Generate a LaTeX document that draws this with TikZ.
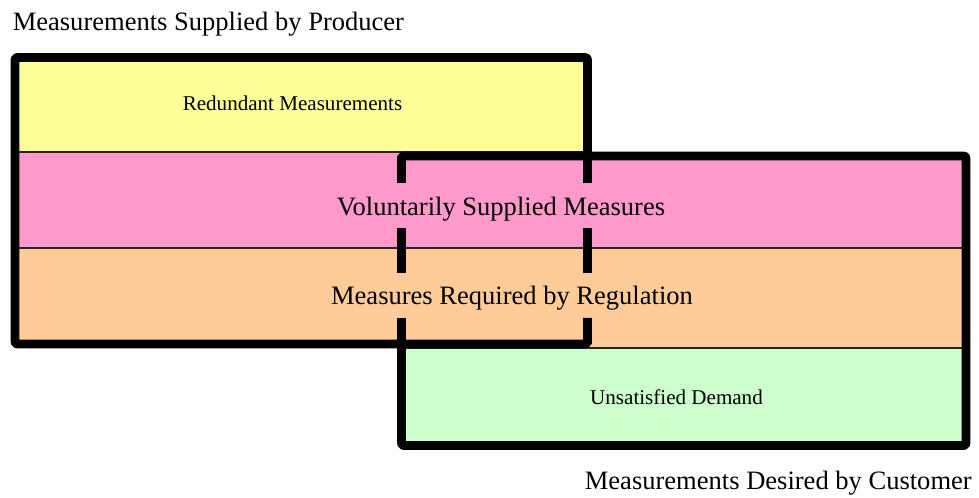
\documentclass[tikz,border=0pt]{standalone}
\usepackage{fontspec}
\setmainfont{Liberation Serif}
\definecolor{yellowband}{HTML}{FFFF99}
\definecolor{pinkband}{HTML}{FF99CC}
\definecolor{orangeband}{HTML}{FFCC99}
\definecolor{greenband}{HTML}{CCFFCC}

\begin{document}
\begin{tikzpicture}[x=0.75pt, y=-0.75pt,
	boxline/.style={line width=6.5pt, rounded corners=1.5pt, line join=round},
	bandline/.style={draw=black!85, line width=1pt},
	biglabel/.style={inner sep=0pt, font=\fontsize{19.9}{24}\selectfont},
	smalllabel/.style={inner sep=0pt, font=\fontsize{15.8}{19}\selectfont}]
			%%%%% START %%%%%
			\useasboundingbox (0, 0) rectangle (979, 498);
			
			% colour bands
			\fill[yellowband] (15, 57.5) rectangle (587.5, 152);
			\fill[pinkband] (15, 152) rectangle (966, 248);
			\fill[orangeband] (15, 248) rectangle (966, 348);
			\fill[greenband] (401.5, 348) rectangle (966, 445.5);
			
			\draw[bandline] (15, 152) -- (587.5, 152);
			\draw[bandline] (15, 248) -- (966, 248);
			\draw[bandline] (401.5, 348) -- (966, 348);
			
			% producer box
			\draw[boxline] (587.5, 156) -- (587.5, 57.5) -- (15, 57.5) -- (15, 344) -- (587.5, 344) -- (587.5, 318);
			
			% customer box
			\draw[boxline] (401.5, 344) -- (401.5, 445.5) -- (966, 445.5) -- (966, 156) -- (401.5, 156) -- (401.5, 183);
			
			% broken edges where the boxes overlap
			\foreach \x in {401.5, 587.5} {
				\draw[boxline] (\x, 156) -- (\x, 183);
				\draw[boxline] (\x, 228) -- (\x, 273);
				\draw[boxline] (\x, 318) -- (\x, 344);
			}
			
			% labels
			\node[biglabel, anchor=base west] (producer) at (12.5, 31) {Measurements Supplied by Producer};
			\node[smalllabel, anchor=base] (redundant) at (292.5, 111) {Redundant Measurements};
			\node[biglabel, anchor=base] (voluntary) at (501, 216) {Voluntarily Supplied Measures};
			\node[biglabel, anchor=base] (required) at (512, 305) {Measures Required by Regulation};
			\node[smalllabel, anchor=base] (unsatisfied) at (676.5, 405) {Unsatisfied Demand};
			\node[biglabel, anchor=base east] (customer) at (972, 490) {Measurements Desired by Customer};
			%%%%% END %%%%%
\end{tikzpicture}
\end{document}
